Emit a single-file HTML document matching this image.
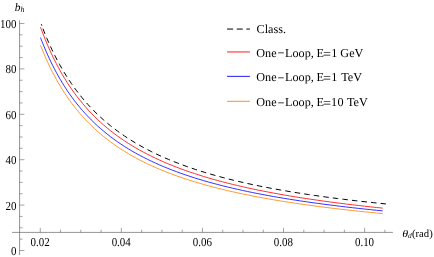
<!DOCTYPE html>
<html><head><meta charset="utf-8"><title>plot</title>
<style>
html,body{margin:0;padding:0;background:#fff;}
body{width:434px;height:257px;overflow:hidden;font-family:"Liberation Serif",serif;}
svg{display:block;will-change:transform;}
text{font-family:"Liberation Serif",serif;text-rendering:geometricPrecision;}
.op{stroke:#000;stroke-width:0.15px;}
</style></head><body>
<svg width="434" height="257" viewBox="0 0 434 257">
<rect width="434" height="257" fill="#fff"/>
<g stroke="#666" stroke-width="0.7" fill="none">
<path d="M12.1 232.4 H392.9"/>
<path d="M19.58 20.3 V255"/>
<path d="M40.28 232.4v-4.6M60.55 232.4v-2.7M80.82 232.4v-2.7M101.10 232.4v-2.7M121.37 232.4v-4.6M141.64 232.4v-2.7M161.92 232.4v-2.7M182.19 232.4v-2.7M202.46 232.4v-4.6M222.73 232.4v-2.7M243.01 232.4v-2.7M263.28 232.4v-2.7M283.55 232.4v-4.6M303.82 232.4v-2.7M324.10 232.4v-2.7M344.37 232.4v-2.7M364.64 232.4v-4.6M384.91 232.4v-2.7M19.58 250.50h4.8M19.58 239.15h3M19.58 227.80h3M19.58 216.45h3M19.58 205.10h4.8M19.58 193.75h3M19.58 182.40h3M19.58 171.05h3M19.58 159.70h4.8M19.58 148.35h3M19.58 137.00h3M19.58 125.65h3M19.58 114.30h4.8M19.58 102.95h3M19.58 91.60h3M19.58 80.25h3M19.58 68.90h4.8M19.58 57.55h3M19.58 46.20h3M19.58 34.85h3M19.58 23.50h4.8" stroke-width="0.6"/>
</g>
<clipPath id="cp"><rect x="0" y="23.6" width="434" height="240"/></clipPath>
<clipPath id="cp2"><rect x="0" y="26.5" width="434" height="240"/></clipPath>
<g fill="none" stroke-width="0.8" clip-path="url(#cp)">
<path d="M40.50 45.28 L40.76 45.94 L41.29 47.29 L42.01 49.09 L42.89 51.25 L43.92 53.71 L45.07 56.42 L46.35 59.32 L47.75 62.39 L49.25 65.60 L50.86 68.90 L52.56 72.29 L54.37 75.74 L56.26 79.22 L58.24 82.72 L60.32 86.23 L62.47 89.74 L64.71 93.23 L67.03 96.68 L69.42 100.11 L71.90 103.49 L74.45 106.82 L77.07 110.09 L79.77 113.31 L82.53 116.46 L85.37 119.56 L88.28 122.58 L91.25 125.54 L94.29 128.43 L97.40 131.25 L100.57 134.00 L103.80 136.68 L107.10 139.29 L110.46 141.84 L113.89 144.31 L117.37 146.72 L120.92 149.07 L124.52 151.35 L128.18 153.57 L131.90 155.73 L135.68 157.82 L139.52 159.86 L143.41 161.85 L147.36 163.77 L151.36 165.64 L155.42 167.46 L159.53 169.23 L163.70 170.95 L167.92 172.62 L172.20 174.25 L176.52 175.83 L180.90 177.36 L185.33 178.85 L189.81 180.31 L194.35 181.72 L198.93 183.09 L203.56 184.43 L208.25 185.72 L212.98 186.99 L217.76 188.22 L222.59 189.41 L227.48 190.58 L232.40 191.71 L237.38 192.82 L242.40 193.89 L247.47 194.94 L252.59 195.96 L257.76 196.95 L262.97 197.92 L268.23 198.86 L273.53 199.78 L278.88 200.68 L284.27 201.55 L289.71 202.40 L295.20 203.23 L300.73 204.04 L306.30 204.83 L311.92 205.60 L317.58 206.36 L323.29 207.09 L329.04 207.81 L334.83 208.51 L340.66 209.19 L346.54 209.86 L352.46 210.51 L358.43 211.15 L364.43 211.77 L370.48 212.38 L376.57 212.97 L382.70 213.56" stroke="#ff8000"/>
<path d="M40.50 37.57 L40.76 38.25 L41.29 39.63 L42.01 41.47 L42.89 43.68 L43.92 46.20 L45.07 48.97 L46.35 51.94 L47.75 55.09 L49.25 58.37 L50.86 61.76 L52.56 65.23 L54.37 68.76 L56.26 72.33 L58.24 75.92 L60.32 79.53 L62.47 83.12 L64.71 86.70 L67.03 90.25 L69.42 93.76 L71.90 97.23 L74.45 100.65 L77.07 104.01 L79.77 107.32 L82.53 110.56 L85.37 113.73 L88.28 116.84 L91.25 119.88 L94.29 122.86 L97.40 125.76 L100.57 128.59 L103.80 131.34 L107.10 134.03 L110.46 136.65 L113.89 139.20 L117.37 141.69 L120.92 144.10 L124.52 146.45 L128.18 148.74 L131.90 150.96 L135.68 153.13 L139.52 155.23 L143.41 157.27 L147.36 159.26 L151.36 161.19 L155.42 163.07 L159.53 164.90 L163.70 166.67 L167.92 168.40 L172.20 170.08 L176.52 171.71 L180.90 173.30 L185.33 174.84 L189.81 176.34 L194.35 177.80 L198.93 179.22 L203.56 180.60 L208.25 181.95 L212.98 183.26 L217.76 184.53 L222.59 185.77 L227.48 186.98 L232.40 188.15 L237.38 189.30 L242.40 190.41 L247.47 191.50 L252.59 192.56 L257.76 193.59 L262.97 194.59 L268.23 195.57 L273.53 196.53 L278.88 197.46 L284.27 198.37 L289.71 199.25 L295.20 200.12 L300.73 200.96 L306.30 201.79 L311.92 202.59 L317.58 203.37 L323.29 204.14 L329.04 204.89 L334.83 205.62 L340.66 206.33 L346.54 207.03 L352.46 207.71 L358.43 208.38 L364.43 209.03 L370.48 209.67 L376.57 210.29 L382.70 210.90" stroke="#0000ff"/>
<path d="M40.50 27.15 L40.76 27.87 L41.29 29.31 L42.01 31.24 L42.89 33.56 L43.92 36.20 L45.07 39.10 L46.35 42.21 L47.75 45.50 L49.25 48.94 L50.86 52.48 L52.56 56.12 L54.37 59.81 L56.26 63.54 L58.24 67.30 L60.32 71.06 L62.47 74.82 L64.71 78.56 L67.03 82.26 L69.42 85.93 L71.90 89.55 L74.45 93.12 L77.07 96.63 L79.77 100.08 L82.53 103.46 L85.37 106.78 L88.28 110.02 L91.25 113.19 L94.29 116.29 L97.40 119.31 L100.57 122.26 L103.80 125.14 L107.10 127.94 L110.46 130.67 L113.89 133.33 L117.37 135.91 L120.92 138.43 L124.52 140.88 L128.18 143.26 L131.90 145.58 L135.68 147.83 L139.52 150.02 L143.41 152.15 L147.36 154.22 L151.36 156.23 L155.42 158.19 L159.53 160.09 L163.70 161.94 L167.92 163.74 L172.20 165.48 L176.52 167.18 L180.90 168.84 L185.33 170.44 L189.81 172.01 L194.35 173.53 L198.93 175.01 L203.56 176.45 L208.25 177.85 L212.98 179.22 L217.76 180.54 L222.59 181.84 L227.48 183.10 L232.40 184.32 L237.38 185.52 L242.40 186.68 L247.47 187.81 L252.59 188.92 L257.76 190.00 L262.97 191.05 L268.23 192.07 L273.53 193.07 L278.88 194.04 L284.27 194.99 L289.71 195.92 L295.20 196.82 L300.73 197.71 L306.30 198.57 L311.92 199.41 L317.58 200.23 L323.29 201.04 L329.04 201.82 L334.83 202.59 L340.66 203.34 L346.54 204.07 L352.46 204.78 L358.43 205.48 L364.43 206.17 L370.48 206.84 L376.57 207.49 L382.70 208.13" stroke="#ff0000"/>
</g>
<path d="M39.60 19.76 L39.86 20.49 L40.40 21.96 L41.13 23.93 L42.02 26.30 L43.06 28.99 L44.23 31.95 L45.52 35.13 L46.93 38.49 L48.46 41.99 L50.08 45.62 L51.81 49.33 L53.63 53.10 L55.55 56.92 L57.56 60.76 L59.65 64.61 L61.83 68.45 L64.10 72.28 L66.45 76.07 L68.87 79.83 L71.37 83.53 L73.95 87.19 L76.61 90.78 L79.34 94.32 L82.14 97.78 L85.01 101.18 L87.95 104.50 L90.96 107.75 L94.04 110.92 L97.18 114.01 L100.39 117.04 L103.66 119.98 L107.00 122.85 L110.40 125.65 L113.87 128.37 L117.39 131.01 L120.98 133.59 L124.63 136.10 L128.33 138.53 L132.10 140.90 L135.92 143.20 L139.80 145.44 L143.74 147.62 L147.74 149.73 L151.79 151.79 L155.90 153.78 L160.06 155.72 L164.28 157.61 L168.55 159.44 L172.87 161.22 L177.25 162.95 L181.68 164.63 L186.17 166.26 L190.70 167.85 L195.29 169.40 L199.93 170.90 L204.62 172.36 L209.36 173.78 L214.15 175.16 L218.99 176.50 L223.88 177.81 L228.82 179.08 L233.80 180.31 L238.84 181.52 L243.92 182.69 L249.05 183.83 L254.23 184.94 L259.46 186.02 L264.73 187.07 L270.06 188.09 L275.42 189.09 L280.84 190.06 L286.30 191.01 L291.80 191.93 L297.35 192.83 L302.95 193.71 L308.59 194.56 L314.27 195.39 L320.00 196.21 L325.78 197.00 L331.59 197.77 L337.45 198.52 L343.36 199.26 L349.31 199.98 L355.30 200.67 L361.34 201.36 L367.41 202.02 L373.53 202.68 L379.70 203.31 L385.90 203.93" fill="none" stroke="#000" stroke-width="1" stroke-dasharray="5.5 4.125" stroke-dashoffset="0" clip-path="url(#cp2)"/>
<path d="M41.3 24.2L41.85 25.6" fill="none" stroke="#000" stroke-width="1"/>
<g fill="none" stroke-width="0.9">
<path d="M227.1 29.07H249.9" stroke="#000" stroke-width="1" stroke-dasharray="6 3.65"/>
<path d="M227.1 51.96H249.9" stroke="#ff0000"/>
<path d="M227.1 76.35H249.9" stroke="#0000ff"/>
<path d="M227.1 101.3H249.9" stroke="#ff8000"/>
</g>
<g class="t" fill="#000">
<g font-size="12.2px">
<text x="256.5" y="33.4">Class.</text>
<text y="56.5"><tspan x="256.3">One</tspan><tspan x="285">Loop,</tspan><tspan x="316.4">E</tspan><tspan x="331.2">1 GeV</tspan></text><text class="op" transform="translate(277.75 57.15) scale(0.95 1)">−</text><text class="op" transform="translate(323.3 57.50) scale(1.1 1)">=</text>
<text y="81.1"><tspan x="256.3">One</tspan><tspan x="285">Loop,</tspan><tspan x="316.4">E</tspan><tspan x="331.2">1</tspan><tspan x="341.15">TeV</tspan></text><text class="op" transform="translate(277.75 81.75) scale(0.95 1)">−</text><text class="op" transform="translate(323.3 82.10) scale(1.1 1)">=</text>
<text y="106"><tspan x="256.3">One</tspan><tspan x="285">Loop,</tspan><tspan x="316.4">E</tspan><tspan x="331.0">1</tspan><tspan x="337.6">0</tspan><tspan x="347.0">TeV</tspan></text><text class="op" transform="translate(277.75 106.65) scale(0.95 1)">−</text><text class="op" transform="translate(323.3 107.00) scale(1.1 1)">=</text>
</g>
<g font-size="12.2px">
<text transform="translate(40.13 246.3) scale(0.9 1)" text-anchor="middle">0.02</text>
<text transform="translate(121.22 246.3) scale(0.9 1)" text-anchor="middle">0.04</text>
<text transform="translate(202.31 246.3) scale(0.9 1)" text-anchor="middle">0.06</text>
<text transform="translate(283.40 246.3) scale(0.9 1)" text-anchor="middle">0.08</text>
<text transform="translate(364.49 246.3) scale(0.9 1)" text-anchor="middle">0.10</text>
<text transform="translate(16.55 254.95) scale(0.9 1)" text-anchor="end">0</text>
<text transform="translate(16.55 209.55) scale(0.9 1)" text-anchor="end">20</text>
<text transform="translate(16.55 164.15) scale(0.9 1)" text-anchor="end">40</text>
<text transform="translate(16.55 118.75) scale(0.9 1)" text-anchor="end">60</text>
<text transform="translate(16.55 73.35) scale(0.9 1)" text-anchor="end">80</text>
<text transform="translate(16.55 27.95) scale(0.9 1)" text-anchor="end">100</text>
</g>
<g font-size="10.7px">
<text x="14.8" y="10.6" font-style="italic" font-size="11.5px">b</text>
<text x="20.5" y="11.8" font-style="italic" font-size="7.9px">h</text>
<text transform="translate(402.3 236.8) scale(1.18 1)" font-style="italic" font-size="10.2px">θ</text>
<text x="407.9" y="238" font-style="italic" font-size="7.4px">d</text>
<text x="412.0" y="236.5">(rad)</text>
</g>
</g>
</svg>
</body></html>
